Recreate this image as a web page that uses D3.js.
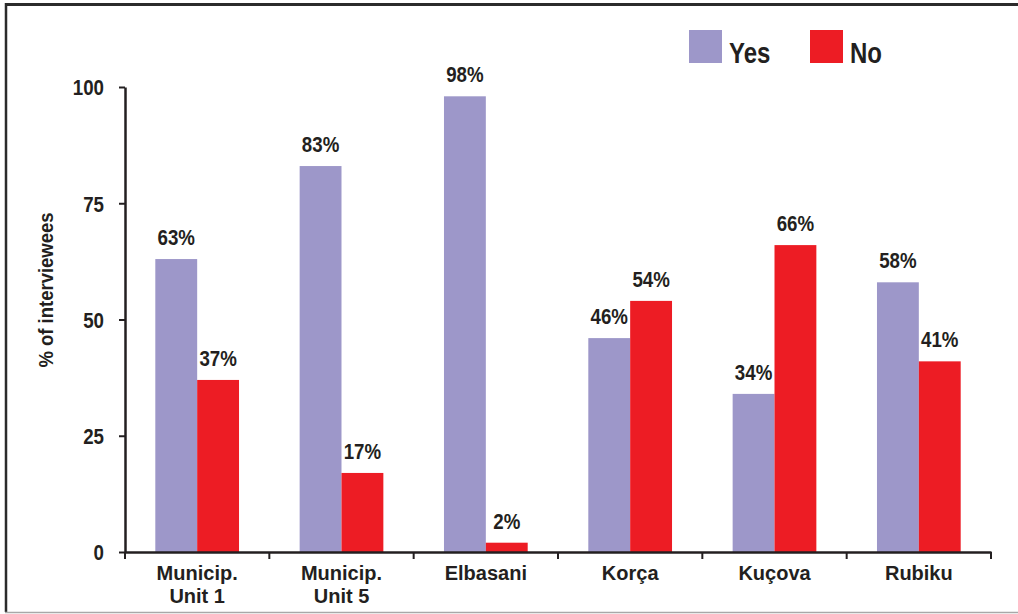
<!DOCTYPE html>
<html>
<head>
<meta charset="utf-8">
<script src="https://cdn.jsdelivr.net/npm/d3@7"></script>
<style>
  html, body { margin: 0; padding: 0; background: #fff; }
  svg { display: block; }
  text { font-family: "Liberation Sans", Arial, Helvetica, sans-serif; font-weight: bold; fill: #231f20; }
</style>
</head>
<body>
<svg id="chart" width="1018" height="614"></svg>
<script>
// Survey answers by location (% of interviewees)
const categories = [["Municip.", "Unit 1"], ["Municip.", "Unit 5"], ["Elbasani"], ["Korça"], ["Kuçova"], ["Rubiku"]];
const seriesNames = ["Yes", "No"];
const yesValues = [63, 83, 98, 46, 34, 58];
const noValues = [37, 17, 2, 54, 66, 41];
const yTicks = [0, 25, 50, 75, 100];
const colors = { Yes: "#9d97c9", No: "#ed1c24" };

const svg = d3.select("#chart");
const W = 1018, H = 614;
const margin = { left: 125, right: 27, top: 87, bottom: 62 };
const plotBottom = H - margin.bottom;

// condensed bold look: squeeze text horizontally around its anchor point
function condensed(sel, k) {
  sel.each(function() {
    const t = d3.select(this);
    const x = +t.attr("x") || 0, yy = +t.attr("y") || 0;
    t.attr("x", 0).attr("y", 0)
      .attr("transform", `translate(${x},${yy}) scale(${k},1)`);
  });
}

// frame around the figure (top, left, bottom)
svg.append("line").attr("x1", 5).attr("x2", W).attr("y1", 4.5).attr("y2", 4.5)
  .attr("stroke", "#2b2b2b").attr("stroke-width", 3);
svg.append("line").attr("x1", 6).attr("x2", 6).attr("y1", 3).attr("y2", 612)
  .attr("stroke", "#2b2b2b").attr("stroke-width", 2.5);
svg.append("line").attr("x1", 5).attr("x2", W).attr("y1", 612.5).attr("y2", 612.5)
  .attr("stroke", "#a8a8a8").attr("stroke-width", 1.5);

const labels = categories.map(c => c.join(" "));
const x0 = d3.scaleBand().domain(labels).range([margin.left, W - margin.right])
  .paddingInner(0.42).paddingOuter(0.21);
const x1 = d3.scaleBand().domain(seriesNames).range([0, x0.bandwidth()]);
const xAxisScale = d3.scaleBand().domain(labels).range([margin.left, W - margin.right]);
const y = d3.scaleLinear().domain([0, 100]).range([plotBottom, margin.top]);

const data = labels.map((l, i) => ({ label: l, values: [
  { key: "Yes", value: yesValues[i] },
  { key: "No", value: noValues[i] }
]}));

// bars
const groups = svg.append("g").selectAll("g").data(data).join("g")
  .attr("transform", d => `translate(${x0(d.label)},0)`);
groups.selectAll("rect").data(d => d.values).join("rect")
  .attr("x", d => x1(d.key))
  .attr("width", x1.bandwidth())
  .attr("y", d => y(d.value))
  .attr("height", d => plotBottom - y(d.value))
  .attr("fill", d => colors[d.key]);
groups.selectAll("text").data(d => d.values).join("text")
  .attr("x", d => x1(d.key) + x1.bandwidth() / 2)
  .attr("y", d => y(d.value) - 14)
  .attr("text-anchor", "middle")
  .attr("font-size", 22)
  .text(d => d.value + "%")
  .call(condensed, 0.85);

// y axis
const yAxis = svg.append("g").attr("transform", `translate(${margin.left},0)`)
  .call(d3.axisLeft(y).tickValues(yTicks).tickSize(6).tickPadding(15).tickSizeOuter(0));
yAxis.select(".domain").attr("stroke", "#231f20").attr("stroke-width", 2.5);
yAxis.selectAll(".tick line").attr("stroke", "#231f20").attr("stroke-width", 2);
yAxis.selectAll(".tick text").attr("font-size", 22).attr("font-family", null)
  .attr("dy", "0.36em").attr("fill", null)
  .call(condensed, 0.85);

// x axis
const xAxis = svg.append("g").attr("transform", `translate(0,${plotBottom})`)
  .call(d3.axisBottom(xAxisScale).tickValues([]).tickSizeOuter(0));
xAxis.select(".domain").attr("stroke", "#231f20").attr("stroke-width", 2.5);
const edges = xAxisScale.domain().map(d => xAxisScale(d)).concat([xAxisScale.range()[1]]);
xAxis.selectAll(".edge").data(edges).join("line")
  .attr("x1", d => d).attr("x2", d => d).attr("y1", 0).attr("y2", 7)
  .attr("stroke", "#231f20").attr("stroke-width", 2);
const catText = xAxis.selectAll(".cat").data(categories).join("text")
  .attr("text-anchor", "middle")
  .attr("font-size", 20)
  .attr("x", (d, i) => xAxisScale(labels[i]) + xAxisScale.bandwidth() / 2)
  .attr("y", 28);
catText.selectAll("tspan").data(d => d).join("tspan")
  .attr("x", function() { return this.parentNode.getAttribute("x"); })
  .attr("dy", (d, i) => i === 0 ? 0 : 23)
  .text(d => d);

// y axis title
svg.append("text")
  .attr("transform", "translate(53,290) rotate(-90) scale(0.88,1)")
  .attr("text-anchor", "middle")
  .attr("font-size", 21)
  .text("% of interviewees");

// legend
const legend = svg.append("g");
const legendX = [689, 810];
seriesNames.forEach((s, i) => {
  legend.append("rect").attr("x", legendX[i]).attr("y", 30).attr("width", 33).attr("height", 33)
    .attr("fill", colors[s]);
  legend.append("text").attr("font-size", 30)
    .attr("x", legendX[i] + 40).attr("y", 63).text(s)
    .call(condensed, 0.8);
});
</script>
</body>
</html>
